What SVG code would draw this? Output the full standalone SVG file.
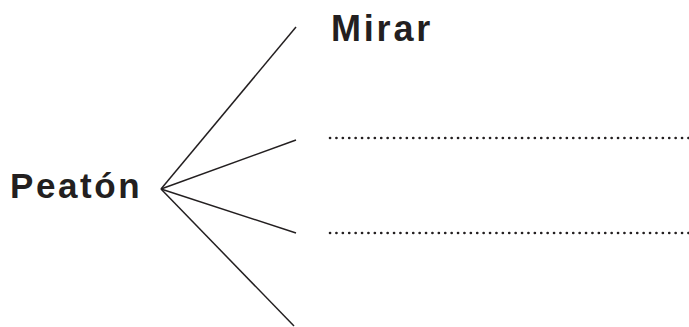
<svg xmlns="http://www.w3.org/2000/svg" width="689" height="327" viewBox="0 0 689 327">
<style>
.t{font-family:"Liberation Sans",Arial,sans-serif;font-weight:bold;fill:#231f20}
.ln{stroke:#231f20;stroke-width:1.5;fill:none}
.dot{stroke:#231f20;stroke-width:2.6;stroke-dasharray:0.1 6.3;stroke-linecap:round;fill:none}
</style>
<rect width="689" height="327" fill="#fff"/>
<g id="peaton"><text class="t" x="10" y="198" font-size="35" letter-spacing="2.6">Peatón</text></g>
<g id="mirar"><text class="t" x="331" y="41" font-size="36" letter-spacing="2.8">Mirar</text></g>
<g id="blank1"><line class="dot" x1="330" y1="138" x2="689" y2="138"/></g>
<g id="blank2"><line class="dot" x1="330" y1="233" x2="689" y2="233"/></g>
<g id="connectors">
<line class="ln" x1="161" y1="189" x2="296" y2="27"/>
<line class="ln" x1="161" y1="189" x2="296" y2="140"/>
<line class="ln" x1="161" y1="189" x2="296" y2="233"/>
<line class="ln" x1="161" y1="189" x2="294" y2="326"/>
</g>
</svg>
